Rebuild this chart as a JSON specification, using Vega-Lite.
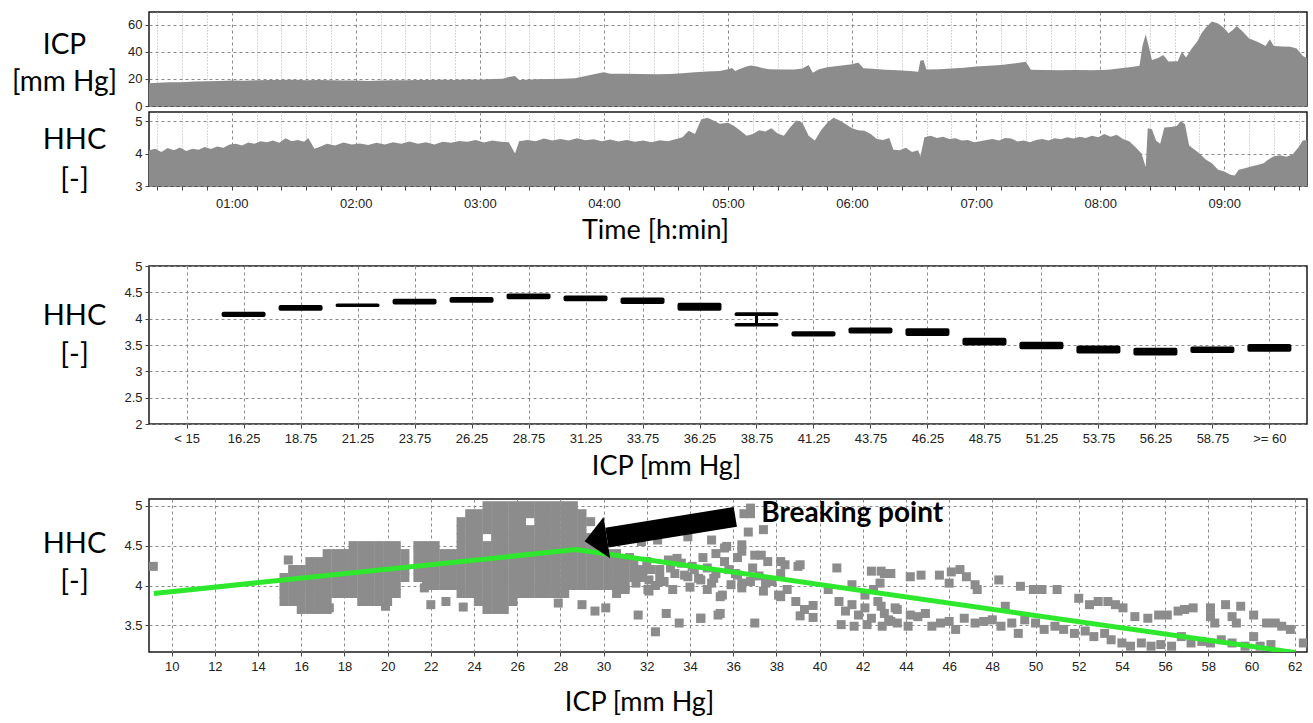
{
"$schema": "https://vega.github.io/schema/vega-lite/v6.json",
"padding": {"left": 10, "top": 11, "right": 3, "bottom": 2},
"background": "white",
"config": {
  "font": "Liberation Sans",
  "view": {"stroke": "#1a1a1a", "strokeWidth": 1.5},
  "axis": {"domain": false, "labelFont": "Liberation Sans", "labelFontSize": 13, "labelColor": "#222", "tickColor": "#444", "tickSize": 4, "labelPadding": 3, "labelOverlap": false, "gridColor": "#8a8a8a", "gridDash": [3,3], "gridWidth": 1, "titleFont": "Lato", "titleFontWeight": "normal", "titleColor": "#000", "titleFontSize": 28}
},
"datasets": {
"icp": [
{"t":20,"v":16.8},{"t":25,"v":17.2},{"t":30,"v":17.5},{"t":36,"v":17.6},{"t":42,"v":18.1},{"t":48,"v":18.3},{"t":54,"v":18.6},{"t":60,"v":18.9},{"t":66,"v":18.7},{"t":72,"v":19.0},{"t":78,"v":19.3},{"t":84,"v":19.2},{"t":90,"v":19.4},{"t":96,"v":19.1},{"t":102,"v":19.3},{"t":108,"v":19.0},{"t":114,"v":18.8},{"t":120,"v":18.8},{"t":126,"v":18.6},{"t":132,"v":18.9},{"t":138,"v":19.1},{"t":144,"v":19.0},{"t":150,"v":19.2},{"t":156,"v":19.3},{"t":162,"v":19.4},{"t":168,"v":19.3},{"t":174,"v":19.6},{"t":180,"v":19.5},{"t":186,"v":20.0},{"t":191,"v":20.2},{"t":194,"v":21.5},{"t":197,"v":22.2},{"t":199,"v":19.2},{"t":203,"v":19.5},{"t":208,"v":19.8},{"t":214,"v":20.0},{"t":220,"v":20.2},{"t":226,"v":20.6},{"t":230,"v":21.8},{"t":234,"v":23.2},{"t":238,"v":24.5},{"t":240,"v":25.0},{"t":243,"v":23.9},{"t":250,"v":23.8},{"t":258,"v":23.7},{"t":266,"v":23.6},{"t":272,"v":23.7},{"t":278,"v":24.2},{"t":284,"v":25.0},{"t":290,"v":25.6},{"t":296,"v":26.0},{"t":300,"v":27.2},{"t":302,"v":28.2},{"t":303.5,"v":25.9},{"t":306,"v":27.5},{"t":309,"v":29.2},{"t":311,"v":29.9},{"t":314,"v":29.2},{"t":317,"v":28.0},{"t":320,"v":27.3},{"t":326,"v":27.0},{"t":332,"v":27.0},{"t":336,"v":27.8},{"t":339,"v":30.4},{"t":341,"v":24.7},{"t":344,"v":27.2},{"t":348,"v":28.6},{"t":352,"v":29.4},{"t":356,"v":30.2},{"t":360,"v":31.0},{"t":363,"v":32.3},{"t":365.5,"v":28.0},{"t":370,"v":27.5},{"t":376,"v":26.8},{"t":382,"v":26.5},{"t":388,"v":25.9},{"t":392,"v":25.4},{"t":393,"v":33.5},{"t":394.5,"v":34.0},{"t":396,"v":27.0},{"t":402,"v":27.3},{"t":408,"v":27.8},{"t":414,"v":28.4},{"t":420,"v":29.2},{"t":426,"v":29.8},{"t":432,"v":30.4},{"t":438,"v":31.4},{"t":444,"v":32.8},{"t":446.5,"v":26.8},{"t":452,"v":26.6},{"t":460,"v":26.5},{"t":468,"v":26.7},{"t":476,"v":26.5},{"t":484,"v":26.8},{"t":490,"v":28.0},{"t":496,"v":29.0},{"t":499,"v":29.8},{"t":500.5,"v":45},{"t":502,"v":53},{"t":503.5,"v":44},{"t":505,"v":34},{"t":508,"v":35.5},{"t":510.5,"v":37.8},{"t":513,"v":33},{"t":517.5,"v":33.2},{"t":519.5,"v":40.2},{"t":521.5,"v":36},{"t":524,"v":42},{"t":527,"v":48},{"t":529,"v":53.8},{"t":531,"v":58},{"t":534,"v":62.5},{"t":537,"v":61},{"t":540,"v":57.5},{"t":542,"v":53.8},{"t":544,"v":56},{"t":546,"v":59.3},{"t":549,"v":55},{"t":552,"v":50},{"t":556,"v":47.5},{"t":560,"v":44.5},{"t":562,"v":49.4},{"t":564,"v":44.5},{"t":568,"v":44},{"t":572,"v":43.9},{"t":575,"v":42.5},{"t":578,"v":37},{"t":580,"v":35.3}
],
"hhc": [
{"t":20,"v":4.1},{"t":23,"v":4.15},{"t":26,"v":4.05},{"t":29,"v":4.17},{"t":32,"v":4.1},{"t":35,"v":4.19},{"t":38,"v":4.08},{"t":41,"v":4.15},{"t":44,"v":4.12},{"t":47,"v":4.2},{"t":50,"v":4.14},{"t":53,"v":4.22},{"t":56,"v":4.18},{"t":59,"v":4.28},{"t":62,"v":4.3},{"t":65,"v":4.25},{"t":68,"v":4.34},{"t":71,"v":4.3},{"t":74,"v":4.38},{"t":77,"v":4.35},{"t":80,"v":4.4},{"t":83,"v":4.33},{"t":86,"v":4.47},{"t":89,"v":4.38},{"t":92,"v":4.42},{"t":95,"v":4.36},{"t":97,"v":4.48},{"t":100,"v":4.15},{"t":103,"v":4.22},{"t":106,"v":4.3},{"t":110,"v":4.25},{"t":114,"v":4.34},{"t":118,"v":4.28},{"t":122,"v":4.31},{"t":126,"v":4.26},{"t":130,"v":4.33},{"t":134,"v":4.28},{"t":138,"v":4.35},{"t":142,"v":4.3},{"t":146,"v":4.37},{"t":150,"v":4.3},{"t":154,"v":4.35},{"t":158,"v":4.28},{"t":162,"v":4.36},{"t":166,"v":4.33},{"t":170,"v":4.39},{"t":174,"v":4.36},{"t":178,"v":4.42},{"t":182,"v":4.34},{"t":186,"v":4.4},{"t":190,"v":4.36},{"t":194,"v":4.35},{"t":197,"v":4.0},{"t":199,"v":4.38},{"t":203,"v":4.42},{"t":207,"v":4.38},{"t":211,"v":4.46},{"t":215,"v":4.4},{"t":219,"v":4.45},{"t":223,"v":4.4},{"t":227,"v":4.47},{"t":231,"v":4.41},{"t":235,"v":4.44},{"t":239,"v":4.38},{"t":243,"v":4.43},{"t":247,"v":4.37},{"t":251,"v":4.42},{"t":255,"v":4.36},{"t":259,"v":4.4},{"t":263,"v":4.35},{"t":267,"v":4.41},{"t":271,"v":4.38},{"t":275,"v":4.45},{"t":278,"v":4.5},{"t":281,"v":4.7},{"t":284,"v":4.6},{"t":287,"v":5.05},{"t":290,"v":5.1},{"t":293,"v":5.02},{"t":296,"v":4.92},{"t":300,"v":4.95},{"t":303,"v":4.85},{"t":306,"v":4.7},{"t":309,"v":4.55},{"t":312,"v":4.6},{"t":315,"v":4.72},{"t":318,"v":4.68},{"t":321,"v":4.78},{"t":324,"v":4.62},{"t":327,"v":4.55},{"t":330,"v":4.8},{"t":333,"v":5.02},{"t":336,"v":4.95},{"t":339,"v":4.55},{"t":342,"v":4.4},{"t":345,"v":4.72},{"t":348,"v":4.95},{"t":351,"v":5.1},{"t":354,"v":5.02},{"t":357,"v":4.9},{"t":360,"v":4.78},{"t":363,"v":4.72},{"t":366,"v":4.7},{"t":369,"v":4.6},{"t":372,"v":4.45},{"t":375,"v":4.42},{"t":378,"v":4.48},{"t":380,"v":4.12},{"t":383,"v":4.1},{"t":386,"v":4.18},{"t":389,"v":4.05},{"t":392,"v":4.1},{"t":393,"v":3.9},{"t":395,"v":4.5},{"t":398,"v":4.55},{"t":401,"v":4.48},{"t":404,"v":4.52},{"t":407,"v":4.45},{"t":410,"v":4.47},{"t":413,"v":4.4},{"t":416,"v":4.42},{"t":419,"v":4.35},{"t":422,"v":4.38},{"t":425,"v":4.42},{"t":428,"v":4.45},{"t":431,"v":4.4},{"t":434,"v":4.48},{"t":437,"v":4.46},{"t":440,"v":4.37},{"t":443,"v":4.4},{"t":446,"v":4.35},{"t":449,"v":4.42},{"t":452,"v":4.45},{"t":455,"v":4.4},{"t":458,"v":4.47},{"t":461,"v":4.44},{"t":464,"v":4.5},{"t":467,"v":4.46},{"t":470,"v":4.52},{"t":473,"v":4.48},{"t":476,"v":4.55},{"t":479,"v":4.5},{"t":482,"v":4.6},{"t":485,"v":4.52},{"t":488,"v":4.58},{"t":491,"v":4.45},{"t":494,"v":4.38},{"t":497,"v":4.2},{"t":500,"v":4.0},{"t":502,"v":3.58},{"t":503,"v":4.78},{"t":505,"v":4.75},{"t":507,"v":4.4},{"t":509,"v":4.3},{"t":511,"v":4.8},{"t":514,"v":4.82},{"t":517,"v":4.85},{"t":519,"v":5.0},{"t":521,"v":4.9},{"t":523,"v":4.25},{"t":526,"v":4.1},{"t":528,"v":4.0},{"t":531,"v":3.82},{"t":534,"v":3.7},{"t":537,"v":3.5},{"t":540,"v":3.45},{"t":543,"v":3.35},{"t":545,"v":3.32},{"t":547,"v":3.5},{"t":550,"v":3.55},{"t":553,"v":3.6},{"t":556,"v":3.65},{"t":559,"v":3.7},{"t":561,"v":3.8},{"t":564,"v":3.92},{"t":567,"v":3.95},{"t":570,"v":3.9},{"t":573,"v":3.97},{"t":576,"v":4.2},{"t":578,"v":4.4},{"t":580,"v":4.42}
],
"bins": [
{"icp":"16.25","lo":4.03,"hi":4.13},{"icp":"18.75","lo":4.15,"hi":4.26},{"icp":"21.25","lo":4.22,"hi":4.29},{"icp":"23.75","lo":4.27,"hi":4.38},{"icp":"26.25","lo":4.30,"hi":4.41},{"icp":"28.75","lo":4.37,"hi":4.48},{"icp":"31.25","lo":4.33,"hi":4.44},{"icp":"33.75","lo":4.28,"hi":4.40},{"icp":"36.25","lo":4.15,"hi":4.30},{"icp":"38.75","lo":4.05,"hi":4.12},{"icp":"38.75","lo":3.85,"hi":3.92},{"icp":"41.25","lo":3.66,"hi":3.76},{"icp":"43.75","lo":3.72,"hi":3.83},{"icp":"46.25","lo":3.67,"hi":3.82},{"icp":"48.75","lo":3.49,"hi":3.64},{"icp":"51.25","lo":3.42,"hi":3.56},{"icp":"53.75","lo":3.34,"hi":3.49},{"icp":"56.25","lo":3.30,"hi":3.45},{"icp":"58.75","lo":3.35,"hi":3.47},{"icp":">= 60","lo":3.37,"hi":3.52}
],
"whisk": [{"icp":"38.75","lo":3.88,"hi":4.08}],
"fit": [{"icp":9.18,"hhc":3.9},{"icp":28.7,"hhc":4.45},{"icp":62.0,"hhc":3.16}],
"shaft": [{"icp":30.15,"hhc":4.6},{"icp":36.1,"hhc":4.86}],
"head": [{"icp":30.15,"hhc":4.6}],
"note": [{"icp":37.3,"hhc":4.8,"label":"Breaking point"}],
"scatter": [
{"icp":15.2,"hhc":3.8},{"icp":15.2,"hhc":3.9},{"icp":15.2,"hhc":4.0},{"icp":15.2,"hhc":4.1},
{"icp":15.6,"hhc":3.8},{"icp":15.6,"hhc":3.9},{"icp":15.6,"hhc":4.0},{"icp":15.6,"hhc":4.1},{"icp":15.6,"hhc":4.2},
{"icp":16.0,"hhc":3.7},{"icp":16.0,"hhc":3.8},{"icp":16.0,"hhc":3.9},{"icp":16.0,"hhc":4.0},{"icp":16.0,"hhc":4.1},{"icp":16.0,"hhc":4.2},
{"icp":16.4,"hhc":3.7},{"icp":16.4,"hhc":3.8},{"icp":16.4,"hhc":3.9},{"icp":16.4,"hhc":4.0},{"icp":16.4,"hhc":4.1},{"icp":16.4,"hhc":4.2},{"icp":16.4,"hhc":4.3},
{"icp":16.8,"hhc":3.7},{"icp":16.8,"hhc":3.8},{"icp":16.8,"hhc":3.9},{"icp":16.8,"hhc":4.0},{"icp":16.8,"hhc":4.1},{"icp":16.8,"hhc":4.2},{"icp":16.8,"hhc":4.3},
{"icp":17.2,"hhc":3.7},{"icp":17.2,"hhc":3.8},{"icp":17.2,"hhc":3.9},{"icp":17.2,"hhc":4.0},{"icp":17.2,"hhc":4.1},{"icp":17.2,"hhc":4.2},{"icp":17.2,"hhc":4.3},{"icp":17.2,"hhc":4.4},
{"icp":17.6,"hhc":3.9},{"icp":17.6,"hhc":4.0},{"icp":17.6,"hhc":4.1},{"icp":17.6,"hhc":4.2},{"icp":17.6,"hhc":4.3},{"icp":17.6,"hhc":4.4},
{"icp":18.0,"hhc":3.9},{"icp":18.0,"hhc":4.0},{"icp":18.0,"hhc":4.1},{"icp":18.0,"hhc":4.2},{"icp":18.0,"hhc":4.3},{"icp":18.0,"hhc":4.4},
{"icp":18.4,"hhc":3.9},{"icp":18.4,"hhc":4.0},{"icp":18.4,"hhc":4.1},{"icp":18.4,"hhc":4.2},{"icp":18.4,"hhc":4.3},{"icp":18.4,"hhc":4.4},{"icp":18.4,"hhc":4.5},
{"icp":18.8,"hhc":3.8},{"icp":18.8,"hhc":3.9},{"icp":18.8,"hhc":4.0},{"icp":18.8,"hhc":4.1},{"icp":18.8,"hhc":4.2},{"icp":18.8,"hhc":4.3},{"icp":18.8,"hhc":4.4},{"icp":18.8,"hhc":4.5},
{"icp":19.2,"hhc":3.8},{"icp":19.2,"hhc":3.9},{"icp":19.2,"hhc":4.0},{"icp":19.2,"hhc":4.1},{"icp":19.2,"hhc":4.2},{"icp":19.2,"hhc":4.3},{"icp":19.2,"hhc":4.4},{"icp":19.2,"hhc":4.5},
{"icp":19.6,"hhc":3.8},{"icp":19.6,"hhc":3.9},{"icp":19.6,"hhc":4.0},{"icp":19.6,"hhc":4.1},{"icp":19.6,"hhc":4.2},{"icp":19.6,"hhc":4.3},{"icp":19.6,"hhc":4.4},{"icp":19.6,"hhc":4.5},
{"icp":20.0,"hhc":3.8},{"icp":20.0,"hhc":3.9},{"icp":20.0,"hhc":4.0},{"icp":20.0,"hhc":4.1},{"icp":20.0,"hhc":4.2},{"icp":20.0,"hhc":4.3},{"icp":20.0,"hhc":4.4},{"icp":20.0,"hhc":4.5},
{"icp":20.4,"hhc":3.9},{"icp":20.4,"hhc":4.0},{"icp":20.4,"hhc":4.1},{"icp":20.4,"hhc":4.2},{"icp":20.4,"hhc":4.3},{"icp":20.4,"hhc":4.4},{"icp":20.4,"hhc":4.5},
{"icp":20.8,"hhc":4.1},{"icp":20.8,"hhc":4.2},{"icp":20.8,"hhc":4.3},{"icp":20.8,"hhc":4.4},
{"icp":21.4,"hhc":4.1},{"icp":21.4,"hhc":4.2},{"icp":21.4,"hhc":4.3},{"icp":21.4,"hhc":4.4},{"icp":21.4,"hhc":4.5},
{"icp":21.8,"hhc":4.0},{"icp":21.8,"hhc":4.1},{"icp":21.8,"hhc":4.2},{"icp":21.8,"hhc":4.3},{"icp":21.8,"hhc":4.4},{"icp":21.8,"hhc":4.5},
{"icp":22.2,"hhc":4.0},{"icp":22.2,"hhc":4.1},{"icp":22.2,"hhc":4.2},{"icp":22.2,"hhc":4.3},{"icp":22.2,"hhc":4.4},{"icp":22.2,"hhc":4.5},
{"icp":22.6,"hhc":4.0},{"icp":22.6,"hhc":4.1},{"icp":22.6,"hhc":4.2},{"icp":22.6,"hhc":4.3},{"icp":22.6,"hhc":4.4},
{"icp":23.0,"hhc":4.0},{"icp":23.0,"hhc":4.1},{"icp":23.0,"hhc":4.2},{"icp":23.0,"hhc":4.3},{"icp":23.0,"hhc":4.4},
{"icp":23.4,"hhc":3.9},{"icp":23.4,"hhc":4.0},{"icp":23.4,"hhc":4.1},{"icp":23.4,"hhc":4.2},{"icp":23.4,"hhc":4.3},{"icp":23.4,"hhc":4.4},{"icp":23.4,"hhc":4.5},{"icp":23.4,"hhc":4.6},{"icp":23.4,"hhc":4.7},{"icp":23.4,"hhc":4.8},
{"icp":23.8,"hhc":3.9},{"icp":23.8,"hhc":4.0},{"icp":23.8,"hhc":4.1},{"icp":23.8,"hhc":4.2},{"icp":23.8,"hhc":4.3},{"icp":23.8,"hhc":4.4},{"icp":23.8,"hhc":4.5},{"icp":23.8,"hhc":4.6},{"icp":23.8,"hhc":4.7},{"icp":23.8,"hhc":4.8},{"icp":23.8,"hhc":4.9},
{"icp":24.2,"hhc":3.8},{"icp":24.2,"hhc":3.9},{"icp":24.2,"hhc":4.0},{"icp":24.2,"hhc":4.1},{"icp":24.2,"hhc":4.2},{"icp":24.2,"hhc":4.3},{"icp":24.2,"hhc":4.4},{"icp":24.2,"hhc":4.5},{"icp":24.2,"hhc":4.6},{"icp":24.2,"hhc":4.7},{"icp":24.2,"hhc":4.8},{"icp":24.2,"hhc":4.9},
{"icp":24.6,"hhc":3.7},{"icp":24.6,"hhc":3.8},{"icp":24.6,"hhc":3.9},{"icp":24.6,"hhc":4.0},{"icp":24.6,"hhc":4.1},{"icp":24.6,"hhc":4.2},{"icp":24.6,"hhc":4.3},{"icp":24.6,"hhc":4.4},{"icp":24.6,"hhc":4.5},{"icp":24.6,"hhc":4.7},{"icp":24.6,"hhc":4.8},{"icp":24.6,"hhc":4.9},{"icp":24.6,"hhc":5.0},
{"icp":25.0,"hhc":3.7},{"icp":25.0,"hhc":3.8},{"icp":25.0,"hhc":3.9},{"icp":25.0,"hhc":4.0},{"icp":25.0,"hhc":4.1},{"icp":25.0,"hhc":4.2},{"icp":25.0,"hhc":4.3},{"icp":25.0,"hhc":4.4},{"icp":25.0,"hhc":4.5},{"icp":25.0,"hhc":4.6},{"icp":25.0,"hhc":4.7},{"icp":25.0,"hhc":4.8},{"icp":25.0,"hhc":4.9},{"icp":25.0,"hhc":5.0},
{"icp":25.4,"hhc":3.7},{"icp":25.4,"hhc":3.8},{"icp":25.4,"hhc":3.9},{"icp":25.4,"hhc":4.0},{"icp":25.4,"hhc":4.1},{"icp":25.4,"hhc":4.2},{"icp":25.4,"hhc":4.3},{"icp":25.4,"hhc":4.4},{"icp":25.4,"hhc":4.5},{"icp":25.4,"hhc":4.6},{"icp":25.4,"hhc":4.7},{"icp":25.4,"hhc":4.8},{"icp":25.4,"hhc":4.9},{"icp":25.4,"hhc":5.0},
{"icp":25.8,"hhc":3.8},{"icp":25.8,"hhc":3.9},{"icp":25.8,"hhc":4.0},{"icp":25.8,"hhc":4.1},{"icp":25.8,"hhc":4.2},{"icp":25.8,"hhc":4.3},{"icp":25.8,"hhc":4.4},{"icp":25.8,"hhc":4.5},{"icp":25.8,"hhc":4.6},{"icp":25.8,"hhc":4.7},{"icp":25.8,"hhc":4.8},{"icp":25.8,"hhc":4.9},{"icp":25.8,"hhc":5.0},
{"icp":26.2,"hhc":3.9},{"icp":26.2,"hhc":4.0},{"icp":26.2,"hhc":4.1},{"icp":26.2,"hhc":4.2},{"icp":26.2,"hhc":4.3},{"icp":26.2,"hhc":4.4},{"icp":26.2,"hhc":4.5},{"icp":26.2,"hhc":4.6},{"icp":26.2,"hhc":4.7},{"icp":26.2,"hhc":4.8},{"icp":26.2,"hhc":4.9},{"icp":26.2,"hhc":5.0},
{"icp":26.6,"hhc":3.9},{"icp":26.6,"hhc":4.0},{"icp":26.6,"hhc":4.1},{"icp":26.6,"hhc":4.2},{"icp":26.6,"hhc":4.3},{"icp":26.6,"hhc":4.4},{"icp":26.6,"hhc":4.5},{"icp":26.6,"hhc":4.6},{"icp":26.6,"hhc":4.7},{"icp":26.6,"hhc":4.9},{"icp":26.6,"hhc":5.0},
{"icp":27.0,"hhc":3.9},{"icp":27.0,"hhc":4.0},{"icp":27.0,"hhc":4.1},{"icp":27.0,"hhc":4.2},{"icp":27.0,"hhc":4.3},{"icp":27.0,"hhc":4.4},{"icp":27.0,"hhc":4.5},{"icp":27.0,"hhc":4.6},{"icp":27.0,"hhc":4.7},{"icp":27.0,"hhc":4.8},{"icp":27.0,"hhc":4.9},{"icp":27.0,"hhc":5.0},
{"icp":27.4,"hhc":3.9},{"icp":27.4,"hhc":4.0},{"icp":27.4,"hhc":4.1},{"icp":27.4,"hhc":4.2},{"icp":27.4,"hhc":4.3},{"icp":27.4,"hhc":4.4},{"icp":27.4,"hhc":4.5},{"icp":27.4,"hhc":4.6},{"icp":27.4,"hhc":4.7},{"icp":27.4,"hhc":4.8},{"icp":27.4,"hhc":4.9},{"icp":27.4,"hhc":5.0},
{"icp":27.8,"hhc":3.9},{"icp":27.8,"hhc":4.0},{"icp":27.8,"hhc":4.1},{"icp":27.8,"hhc":4.2},{"icp":27.8,"hhc":4.3},{"icp":27.8,"hhc":4.4},{"icp":27.8,"hhc":4.5},{"icp":27.8,"hhc":4.6},{"icp":27.8,"hhc":4.7},{"icp":27.8,"hhc":4.8},{"icp":27.8,"hhc":4.9},{"icp":27.8,"hhc":5.0},
{"icp":28.2,"hhc":3.9},{"icp":28.2,"hhc":4.0},{"icp":28.2,"hhc":4.1},{"icp":28.2,"hhc":4.2},{"icp":28.2,"hhc":4.3},{"icp":28.2,"hhc":4.4},{"icp":28.2,"hhc":4.5},{"icp":28.2,"hhc":4.6},{"icp":28.2,"hhc":4.7},{"icp":28.2,"hhc":4.8},{"icp":28.2,"hhc":4.9},{"icp":28.2,"hhc":5.0},
{"icp":28.6,"hhc":4.0},{"icp":28.6,"hhc":4.1},{"icp":28.6,"hhc":4.2},{"icp":28.6,"hhc":4.3},{"icp":28.6,"hhc":4.4},{"icp":28.6,"hhc":4.5},{"icp":28.6,"hhc":4.6},{"icp":28.6,"hhc":4.7},{"icp":28.6,"hhc":4.8},{"icp":28.6,"hhc":4.9},{"icp":28.6,"hhc":5.0},
{"icp":29.0,"hhc":4.0},{"icp":29.0,"hhc":4.1},{"icp":29.0,"hhc":4.2},{"icp":29.0,"hhc":4.3},{"icp":29.0,"hhc":4.4},{"icp":29.0,"hhc":4.5},{"icp":29.0,"hhc":4.6},{"icp":29.0,"hhc":4.7},{"icp":29.0,"hhc":4.8},{"icp":29.0,"hhc":4.9},
{"icp":29.4,"hhc":4.0},{"icp":29.4,"hhc":4.1},{"icp":29.4,"hhc":4.2},{"icp":29.4,"hhc":4.3},{"icp":29.4,"hhc":4.4},{"icp":29.4,"hhc":4.5},{"icp":29.4,"hhc":4.6},{"icp":29.4,"hhc":4.8},
{"icp":29.8,"hhc":4.0},{"icp":29.8,"hhc":4.1},{"icp":29.8,"hhc":4.2},{"icp":29.8,"hhc":4.3},{"icp":29.8,"hhc":4.4},{"icp":29.8,"hhc":4.5},
{"icp":30.2,"hhc":4.0},{"icp":30.2,"hhc":4.1},{"icp":30.2,"hhc":4.2},{"icp":30.2,"hhc":4.3},{"icp":30.2,"hhc":4.4},
{"icp":30.6,"hhc":4.0},{"icp":30.6,"hhc":4.1},{"icp":30.6,"hhc":4.2},{"icp":30.6,"hhc":4.3},{"icp":30.6,"hhc":4.4},
{"icp":31.0,"hhc":4.0},{"icp":31.0,"hhc":4.1},{"icp":31.0,"hhc":4.2},{"icp":31.0,"hhc":4.3},
{"icp":31.4,"hhc":4.1},{"icp":31.4,"hhc":4.2},{"icp":31.4,"hhc":4.3},
{"icp":31.8,"hhc":4.1},{"icp":31.8,"hhc":4.2},{"icp":32.2,"hhc":4.2},{"icp":32.6,"hhc":4.1},
{"icp":30.6,"hhc":3.9},{"icp":31.0,"hhc":3.95},{"icp":31.2,"hhc":4.35},{"icp":32.0,"hhc":4.3},{"icp":32.4,"hhc":4.0},{"icp":32.8,"hhc":4.05},{"icp":33.2,"hhc":3.95},{"icp":34.0,"hhc":3.98},{"icp":34.8,"hhc":3.95},{"icp":35.2,"hhc":4.15},{"icp":35.8,"hhc":4.2},{"icp":36.2,"hhc":4.35},{"icp":36.9,"hhc":4.22},{"icp":37.2,"hhc":4.12},{"icp":34.6,"hhc":4.35},{"icp":35.2,"hhc":4.4},
{"icp":9.15,"hhc":4.24},{"icp":15.4,"hhc":4.32},{"icp":17.3,"hhc":3.72},{"icp":19.9,"hhc":3.74},{"icp":21.7,"hhc":3.97},{"icp":22.0,"hhc":3.76},{"icp":22.7,"hhc":3.8},{"icp":23.5,"hhc":3.73},{"icp":27.9,"hhc":3.78},{"icp":29.0,"hhc":3.76},{"icp":29.6,"hhc":3.68},{"icp":30.1,"hhc":3.72},
{"icp":33.9,"hhc":4.61},{"icp":35.0,"hhc":4.57},{"icp":35.7,"hhc":4.49},{"icp":36.4,"hhc":4.51},{"icp":36.7,"hhc":4.67},{"icp":37.4,"hhc":4.7},{"icp":36.8,"hhc":4.9},{"icp":36.4,"hhc":4.43},{"icp":37.0,"hhc":4.38},{"icp":37.6,"hhc":4.3},{"icp":38.2,"hhc":4.3},{"icp":39.0,"hhc":4.24},{"icp":40.8,"hhc":4.22},{"icp":38.2,"hhc":4.15},{"icp":37.5,"hhc":4.03},{"icp":37.8,"hhc":4.05},{"icp":38.5,"hhc":3.95},{"icp":38.2,"hhc":3.86},{"icp":35.4,"hhc":3.86},{"icp":35.3,"hhc":3.63},{"icp":34.5,"hhc":3.59},{"icp":33.5,"hhc":3.53},{"icp":32.9,"hhc":3.65},{"icp":32.4,"hhc":3.42},{"icp":31.6,"hhc":3.63},{"icp":32.05,"hhc":3.95},{"icp":37.0,"hhc":3.53},{"icp":36.1,"hhc":4.15},{"icp":36.4,"hhc":4.03},
{"icp":33.0,"hhc":4.32},{"icp":33.6,"hhc":4.28},{"icp":33.3,"hhc":4.15},{"icp":33.9,"hhc":4.11},{"icp":34.2,"hhc":4.2},{"icp":34.5,"hhc":4.07},{"icp":35.0,"hhc":4.03},{"icp":31.5,"hhc":4.03},{"icp":32.1,"hhc":4.07},{"icp":32.6,"hhc":4.2},{"icp":31.6,"hhc":4.72},{"icp":32.2,"hhc":4.66},
{"icp":38.9,"hhc":3.8},{"icp":39.3,"hhc":3.7},{"icp":39.7,"hhc":3.75},{"icp":39.1,"hhc":3.62},{"icp":39.7,"hhc":3.6},{"icp":40.4,"hhc":3.95},{"icp":40.9,"hhc":3.8},{"icp":41.2,"hhc":3.68},{"icp":41.5,"hhc":3.76},{"icp":41.8,"hhc":3.63},{"icp":42.1,"hhc":3.72},{"icp":42.4,"hhc":3.59},{"icp":42.7,"hhc":3.8},{"icp":43.0,"hhc":3.65},{"icp":43.3,"hhc":3.55},{"icp":41.0,"hhc":3.51},{"icp":41.6,"hhc":3.49},{"icp":42.2,"hhc":3.51},{"icp":42.9,"hhc":3.49},{"icp":43.5,"hhc":3.72},{"icp":42.1,"hhc":3.88},{"icp":41.5,"hhc":4.01},{"icp":42.5,"hhc":3.95},{"icp":42.8,"hhc":4.03},{"icp":42.4,"hhc":4.18},{"icp":43.0,"hhc":4.15},
{"icp":31.75,"hhc":4.55},{"icp":32.5,"hhc":4.57},{"icp":33.3,"hhc":4.68},{"icp":35.6,"hhc":4.47},{"icp":37.3,"hhc":4.38},{"icp":38.4,"hhc":4.26},{"icp":39.1,"hhc":4.26},{"icp":36.5,"hhc":4.9},{"icp":36.8,"hhc":4.97},
{"icp":33.4,"hhc":4.34},{"icp":34.1,"hhc":4.24},{"icp":34.8,"hhc":4.22},{"icp":35.6,"hhc":4.3},{"icp":36.2,"hhc":4.13},{"icp":36.8,"hhc":4.05},{"icp":37.4,"hhc":3.93},{"icp":38.1,"hhc":3.88},{"icp":33.1,"hhc":4.22},{"icp":33.75,"hhc":4.13},{"icp":34.4,"hhc":4.09},{"icp":35.1,"hhc":4.09},{"icp":35.9,"hhc":4.01},{"icp":36.4,"hhc":3.97},
{"icp":32.1,"hhc":3.93},{"icp":34.5,"hhc":3.59},{"icp":35.4,"hhc":3.65},{"icp":35.5,"hhc":3.88},
{"icp":42.85,"hhc":4.18},{"icp":43.3,"hhc":4.15},{"icp":44.2,"hhc":4.11},{"icp":44.7,"hhc":4.13},{"icp":45.55,"hhc":4.13},{"icp":46.0,"hhc":4.03},{"icp":46.1,"hhc":4.17},{"icp":46.5,"hhc":4.2},{"icp":46.8,"hhc":4.11},{"icp":47.2,"hhc":4.01},{"icp":47.3,"hhc":3.95},{"icp":48.3,"hhc":4.07},{"icp":49.3,"hhc":3.99},{"icp":49.9,"hhc":3.95},{"icp":50.3,"hhc":3.95},{"icp":51.0,"hhc":3.95},{"icp":52.0,"hhc":3.84},{"icp":52.5,"hhc":3.76},{"icp":52.9,"hhc":3.8},{"icp":53.35,"hhc":3.8},{"icp":53.7,"hhc":3.76},{"icp":54.05,"hhc":3.72},{"icp":54.6,"hhc":3.61},{"icp":55.2,"hhc":3.59},{"icp":55.7,"hhc":3.63},{"icp":56.1,"hhc":3.63},{"icp":56.6,"hhc":3.68},{"icp":56.9,"hhc":3.7},{"icp":57.3,"hhc":3.72},{"icp":58.1,"hhc":3.72},{"icp":58.1,"hhc":3.61},{"icp":58.3,"hhc":3.53},{"icp":58.8,"hhc":3.76},{"icp":59.1,"hhc":3.61},{"icp":59.5,"hhc":3.74},{"icp":59.3,"hhc":3.53},{"icp":60.1,"hhc":3.63},{"icp":60.1,"hhc":3.36},{"icp":60.7,"hhc":3.53},{"icp":61.1,"hhc":3.53},{"icp":61.4,"hhc":3.49},{"icp":61.8,"hhc":3.45},{"icp":62.4,"hhc":3.28},
{"icp":42.85,"hhc":3.74},{"icp":43.2,"hhc":3.57},{"icp":43.6,"hhc":3.53},{"icp":44.1,"hhc":3.49},{"icp":44.55,"hhc":3.61},{"icp":44.9,"hhc":3.65},{"icp":43.6,"hhc":3.7},{"icp":44.2,"hhc":3.63},
{"icp":45.2,"hhc":3.49},{"icp":45.6,"hhc":3.53},{"icp":46.0,"hhc":3.55},{"icp":46.3,"hhc":3.45},{"icp":46.7,"hhc":3.59},{"icp":47.2,"hhc":3.53},{"icp":47.6,"hhc":3.55},{"icp":48.0,"hhc":3.57},{"icp":48.4,"hhc":3.49},{"icp":48.9,"hhc":3.53},{"icp":49.2,"hhc":3.4},{"icp":49.5,"hhc":3.57},{"icp":48.6,"hhc":3.74},
{"icp":50.0,"hhc":3.53},{"icp":50.4,"hhc":3.45},{"icp":50.9,"hhc":3.49},{"icp":51.3,"hhc":3.45},{"icp":51.8,"hhc":3.4},{"icp":52.3,"hhc":3.43},{"icp":52.7,"hhc":3.36},{"icp":53.2,"hhc":3.4},{"icp":53.5,"hhc":3.32},
{"icp":54.0,"hhc":3.28},{"icp":54.4,"hhc":3.24},{"icp":54.9,"hhc":3.28},{"icp":55.35,"hhc":3.24},{"icp":55.8,"hhc":3.26},{"icp":56.3,"hhc":3.24},
{"icp":56.75,"hhc":3.36},{"icp":57.2,"hhc":3.28},{"icp":57.7,"hhc":3.3},{"icp":58.1,"hhc":3.28},{"icp":58.6,"hhc":3.32},{"icp":59.1,"hhc":3.28},{"icp":59.7,"hhc":3.24},{"icp":60.4,"hhc":3.24},{"icp":60.9,"hhc":3.26}
],
"blank": [{"k": 0}]
},
"bounds": "flush",
"spacing": 6,
"vconcat": [
 {
  "width": 1158, "height": 94,
  "data": {"name": "icp"},
  "mark": {"type": "area", "color": "#8c8c8c", "clip": true},
  "encoding": {
    "x": {"field": "t", "type": "quantitative", "scale": {"domain": [20, 580], "nice": false, "zero": false},
          "axis": {"values": [24,36,48,60,72,84,96,108,120,132,144,156,168,180,192,204,216,228,240,252,264,276,288,300,312,324,336,348,360,372,384,396,408,420,432,444,456,468,480,492,504,516,528,540,552,564,576],
                   "labels": false, "ticks": false, "title": null,
                   "gridDash": {"condition": {"test": "datum.value % 60 === 0", "value": [3,3]}, "value": [1,2]},
                   "gridColor": {"condition": {"test": "datum.value % 60 === 0", "value": "#8a8a8a"}, "value": "#b0b0b0"}}},
    "y": {"field": "v", "type": "quantitative", "scale": {"domain": [0, 69.6], "nice": false},
          "axis": {"values": [0,20,40,60], "labelExpr": "datum.value + ''", "title": ["ICP", "[mm Hg]"], "titleAngle": 0, "titleAlign": "center", "titleBaseline": "alphabetic", "titleX": -85, "titleY": 41, "titleLineHeight": 37, "titleFontSize": 28}}
  }
 },
 {
  "width": 1158, "height": 74,
  "data": {"name": "hhc"},
  "mark": {"type": "area", "color": "#8c8c8c", "clip": true},
  "encoding": {
    "x": {"field": "t", "type": "quantitative", "scale": {"domain": [20, 580], "nice": false, "zero": false},
          "axis": {"values": [24,36,48,60,72,84,96,108,120,132,144,156,168,180,192,204,216,228,240,252,264,276,288,300,312,324,336,348,360,372,384,396,408,420,432,444,456,468,480,492,504,516,528,540,552,564,576],
                   "labelExpr": "datum.value % 60 === 0 ? '0' + (datum.value / 60) + ':00' : ''",
                   "labelPadding": 7,
                   "gridDash": {"condition": {"test": "datum.value % 60 === 0", "value": [3,3]}, "value": [1,2]},
                   "gridColor": {"condition": {"test": "datum.value % 60 === 0", "value": "#8a8a8a"}, "value": "#b0b0b0"},
                   "title": "Time [h:min]", "titleX": 506, "titleAlign": "center", "titlePadding": 7, "titleFontSize": 27}},
    "y": {"field": "v", "type": "quantitative", "scale": {"domain": [3, 5.28], "nice": false, "zero": false},
          "axis": {"values": [3,4,5], "labelExpr": "datum.value + ''", "title": ["HHC", "[-]"], "titleAngle": 0, "titleAlign": "center", "titleBaseline": "alphabetic", "titleX": -75, "titleY": 36, "titleLineHeight": 40, "titleFontSize": 29}}
  }
 },
 {
  "width": 1158, "height": 68,
  "view": {"stroke": null},
  "data": {"name": "blank"},
  "mark": {"type": "point", "opacity": 0}
 },
 {
  "width": 1158, "height": 158,
  "encoding": {
    "x": {"field": "icp", "type": "ordinal", "sort": null,
          "scale": {"type": "point", "padding": 0.66, "domain": ["< 15","16.25","18.75","21.25","23.75","26.25","28.75","31.25","33.75","36.25","38.75","41.25","43.75","46.25","48.75","51.25","53.75","56.25","58.75",">= 60"]},
          "axis": {"grid": true, "labelAngle": 0, "labelPadding": 4, "title": "ICP [mm Hg]", "titleX": 517, "titleAlign": "center", "titlePadding": 8, "titleFontSize": 27}},
    "y": {"field": "lo", "type": "quantitative", "scale": {"domain": [2, 5], "nice": false, "zero": false},
          "axis": {"values": [2,2.5,3,3.5,4,4.5,5], "labelExpr": "datum.value + ''", "title": ["HHC", "[-]"], "titleAngle": 0, "titleAlign": "center", "titleBaseline": "alphabetic", "titleX": -75, "titleY": 58, "titleLineHeight": 39, "titleFontSize": 29}},
    "y2": {"field": "hi"}
  },
  "layer": [
   {
    "data": {"name": "bins"},
    "mark": {"type": "bar", "color": "#000", "width": 44, "cornerRadius": 2}
   },
   {
    "data": {"name": "whisk"},
    "mark": {"type": "rule", "color": "#000", "strokeWidth": 3}
   }
  ]
 },
 {
  "width": 1158, "height": 63,
  "view": {"stroke": null},
  "data": {"name": "blank"},
  "mark": {"type": "point", "opacity": 0}
 },
 {
  "width": 1158, "height": 153,
  "layer": [
   {
    "data": {"name": "scatter"},
    "mark": {"type": "point", "shape": "square", "filled": true, "size": 81, "color": "#8c8c8c", "opacity": 1, "clip": true},
    "encoding": {
      "x": {"field": "icp", "type": "quantitative", "scale": {"domain": [8.95, 62.57], "nice": false, "zero": false},
            "axis": {"values": [10,12,14,16,18,20,22,24,26,28,30,32,34,36,38,40,42,44,46,48,50,52,54,56,58,60,62], "labelPadding": 4, "title": "ICP [mm Hg]", "titleX": 490, "titleAlign": "center", "titlePadding": 16, "titleFontSize": 27}},
      "y": {"field": "hhc", "type": "quantitative", "scale": {"domain": [3.167, 5.084], "nice": false, "zero": false},
            "axis": {"values": [3.5,4,4.5,5], "labelExpr": "datum.value + ''", "title": ["HHC", "[-]"], "titleAngle": 0, "titleAlign": "center", "titleBaseline": "alphabetic", "titleX": -75, "titleY": 53, "titleLineHeight": 38, "titleFontSize": 29}}
    }
   },
   {
    "data": {"name": "fit"},
    "mark": {"type": "line", "color": "#2ee82e", "strokeWidth": 5, "clip": true},
    "encoding": {
      "x": {"field": "icp", "type": "quantitative"},
      "y": {"field": "hhc", "type": "quantitative"}
    }
   },
   {
    "data": {"name": "shaft"},
    "mark": {"type": "line", "color": "#000", "strokeWidth": 20, "strokeCap": "butt"},
    "encoding": {
      "x": {"field": "icp", "type": "quantitative"},
      "y": {"field": "hhc", "type": "quantitative"}
    }
   },
   {
    "data": {"name": "head"},
    "mark": {"type": "point", "shape": "M-1.07,0L0,-1L0,1Z", "filled": true, "size": 1764, "angle": 351, "color": "#000", "opacity": 1},
    "encoding": {
      "x": {"field": "icp", "type": "quantitative"},
      "y": {"field": "hhc", "type": "quantitative"}
    }
   },
   {
    "data": {"name": "note"},
    "mark": {"type": "text", "align": "left", "baseline": "alphabetic", "font": "Lato", "fontSize": 28, "fontWeight": "bold", "color": "#000"},
    "encoding": {
      "x": {"field": "icp", "type": "quantitative"},
      "y": {"field": "hhc", "type": "quantitative"},
      "text": {"field": "label"}
    }
   }
  ]
 }
]
}
